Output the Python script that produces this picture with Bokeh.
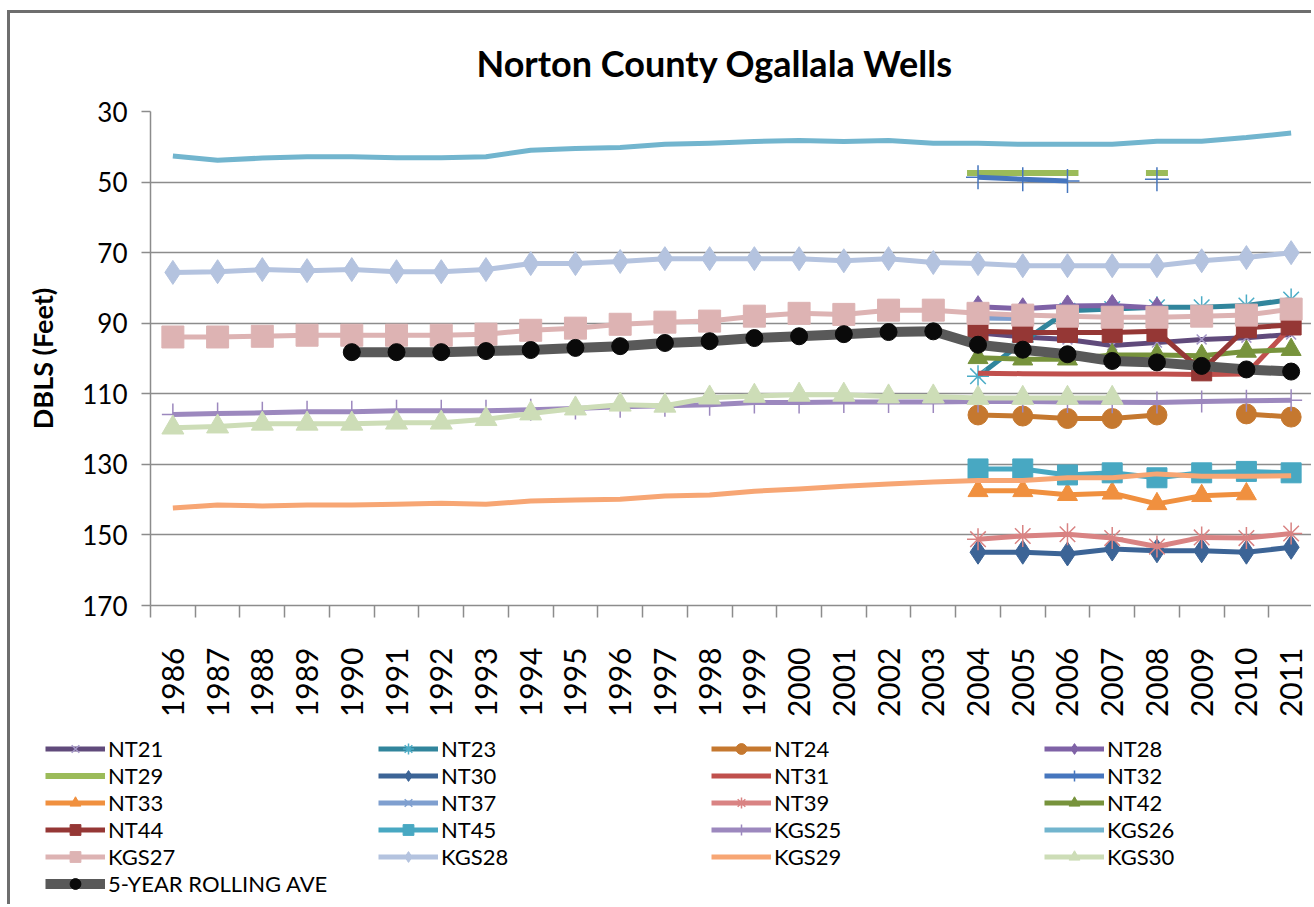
import math
from bokeh.plotting import figure
from bokeh.models import Range1d, FixedTicker, Legend, LegendItem
from bokeh.embed import file_html
from bokeh.resources import INLINE

nan = float("nan")

years = list(range(1986, 2012))
recent_years = list(range(2004, 2012))
roll_years = list(range(1990, 2012))
y_ticks = [30, 50, 70, 90, 110, 130, 150, 170]

# NT wells, 2004-2011
NT21 = [92.7, 93.9, 94.6, 96.3, 95.5, 94.6, 94.1, 93.2]
NT23 = [105.0, 95.3, 86.5, 86.0, 85.5, 85.5, 85.0, 83.3]
NT24 = [116.0, 116.3, 117.0, 117.0, 116.0, nan, 115.7, 116.6]
NT28 = [85.3, 85.9, 85.1, 85.0, 85.7, nan, nan, nan]
NT29 = [47.4, 47.4, 47.4, nan, 47.4, nan, nan, nan]
NT30 = [154.9, 154.9, 155.4, 154.0, 154.5, 154.5, 154.9, 153.5]
NT31 = [104.2, 104.3, 104.4, 104.4, 104.4, 104.5, 104.4, 91.0]
NT32 = [48.6, 49.2, 49.7, nan, 49.2, nan, nan, nan]
NT33 = [137.5, 137.5, 138.6, 138.2, 141.2, 138.9, 138.4, nan]
NT37 = [88.5, 88.7, nan, nan, nan, nan, nan, nan]
NT39 = [151.2, 150.3, 149.8, 150.9, 153.3, 150.7, 150.9, 149.6]
NT42 = [99.8, 100.2, 100.2, 99.0, 99.0, 99.2, 98.0, 97.5]
NT44 = [92.3, 92.6, 92.6, 92.6, 92.3, 103.5, 91.3, 90.5]
NT45 = [131.3, 131.3, 133.0, 132.4, 133.8, 132.4, 132.0, 132.4]

# KGS wells, 1986-2011
KGS25 = [115.9, 115.6, 115.4, 115.1, 115.1, 114.8, 114.8, 114.8, 114.5, 114.2, 113.7, 113.4, 113.1,
         112.5, 112.5, 112.3, 112.3, 112.3, 112.2, 112.2, 112.3, 112.4, 112.5, 112.2, 112.0, 111.8]
KGS26 = [42.6, 43.8, 43.2, 42.8, 42.8, 43.1, 43.1, 42.8, 41.0, 40.5, 40.2, 39.3, 39.0,
         38.5, 38.2, 38.5, 38.2, 39.0, 39.0, 39.3, 39.3, 39.3, 38.4, 38.4, 37.4, 36.1]
KGS27 = [93.9, 93.9, 93.7, 93.4, 93.4, 93.4, 93.4, 93.1, 92.0, 91.4, 90.3, 89.7, 89.4,
         88.0, 87.2, 87.5, 86.3, 86.3, 87.2, 87.7, 88.0, 88.3, 88.3, 88.0, 87.7, 86.0]
KGS28 = [75.6, 75.4, 74.8, 75.1, 74.8, 75.4, 75.4, 74.8, 73.1, 73.1, 72.5, 71.7, 71.7,
         71.7, 71.7, 72.3, 71.7, 72.8, 73.1, 73.7, 73.7, 73.7, 73.7, 72.3, 71.4, 70.0]
KGS29 = [142.4, 141.5, 141.8, 141.5, 141.5, 141.3, 141.0, 141.3, 140.4, 140.1, 139.9, 139.0, 138.7,
         137.6, 137.0, 136.2, 135.6, 135.0, 134.6, 134.6, 133.8, 133.8, 132.7, 133.4, 133.4, 133.2]
KGS30 = [119.6, 119.3, 118.5, 118.5, 118.5, 118.2, 118.2, 117.2, 115.6, 114.2, 113.1, 113.4, 111.1,
         110.6, 110.3, 110.3, 110.8, 110.8, 111.2, 111.2, 111.2, 111.2, nan, nan, nan, nan]

# 5-year rolling average, 1990-2011
ROLL5 = [98.2, 98.2, 98.2, 97.9, 97.6, 97.0, 96.5, 95.6, 95.1, 94.2, 93.7, 93.1, 92.5, 92.3,
         96.1, 97.5, 98.8, 100.7, 101.1, 102.1, 103.1, 103.7]

FONT = "Lato"
BORDER = "3px solid #6E6E6E"

p = figure(width=1304, height=712, output_backend="svg", toolbar_location=None,
           x_range=Range1d(1985.5, 2011.5), y_range=Range1d(170, 30),
           min_border_left=140, min_border_right=1, min_border_top=97, min_border_bottom=120)
p.margin = (10, 0, 0, 7)
p.styles = {"border-left": BORDER, "border-top": BORDER}

p.outline_line_color = None
p.background_fill_color = "white"
p.border_fill_color = "white"

p.title.text = "Norton County Ogallala Wells"
p.title.text_font = FONT
p.title.text_font_size = "36px"
p.title.text_font_style = "bold"
p.title.text_color = "black"
p.title.align = "left"
p.title.offset = 326
p.title.vertical_align = "middle"
p.title.standoff = 52

grid_gray = "#8C8C8C"

# x axis: labels at years, tick marks between categories
xa = p.xaxis[0]
xa.ticker = FixedTicker(ticks=years, minor_ticks=[y - 0.5 for y in years] + [years[-1] + 0.5])
xa.major_label_orientation = math.pi / 2
xa.major_label_text_font = FONT
xa.major_label_text_font_size = "30px"
xa.major_label_text_color = "black"
xa.major_label_standoff = 30
xa.major_tick_out = 0
xa.major_tick_in = 0
xa.minor_tick_out = 12
xa.minor_tick_in = 0
xa.minor_tick_line_color = grid_gray
xa.minor_tick_line_width = 1.5
xa.axis_line_color = grid_gray
xa.axis_line_width = 1.5
p.xgrid.visible = False

ya = p.yaxis[0]
ya.ticker = FixedTicker(ticks=y_ticks, minor_ticks=[])
ya.major_label_text_font = FONT
ya.major_label_text_font_size = "26px"
ya.major_label_text_color = "black"
ya.major_label_standoff = 14
ya.major_tick_out = 9
ya.major_tick_in = 0
ya.major_tick_line_color = grid_gray
ya.major_tick_line_width = 1.5
ya.minor_tick_out = 0
ya.minor_tick_in = 0
ya.axis_line_color = grid_gray
ya.axis_line_width = 1.5
ya.axis_label = "DBLS (Feet)"
ya.axis_label_text_font = FONT
ya.axis_label_text_font_size = "27px"
ya.axis_label_text_font_style = "bold"
ya.axis_label_text_color = "black"
ya.axis_label_standoff = 20
p.ygrid.grid_line_color = grid_gray
p.ygrid.grid_line_width = 1.5

# legend strip below the chart (same series, drawn outside its view so only the key shows)
pl = figure(width=1304, height=182, output_backend="svg", toolbar_location=None,
            x_range=Range1d(0, 1), y_range=Range1d(0, 1),
            x_axis_location=None, y_axis_location=None,
            min_border_left=0, min_border_right=0, min_border_top=0, min_border_bottom=0)
pl.margin = (0, 0, 0, 7)
pl.styles = {"border-left": BORDER}
pl.outline_line_color = None
pl.xgrid.visible = False
pl.ygrid.visible = False
pl.background_fill_color = "white"
pl.border_fill_color = "white"

# label, x, y, line colour, line width, marker, marker size, marker colour, filled
series = [
    ("NT21", recent_years, NT21, "#604A7B", 5, "x", 14, "#A497C6", False),
    ("NT23", recent_years, NT23, "#31859C", 5, "asterisk", 22, "#4BACC6", False),
    ("NT24", recent_years, NT24, "#C5782F", 5, "circle", 20, "#C5782F", True),
    ("NT28", recent_years, NT28, "#7F62A6", 5, "diamond", 22, "#7F62A6", True),
    ("NT29", recent_years, NT29, "#9BBB59", 6, "dash", 22, "#9BBB59", False),
    ("NT30", recent_years, NT30, "#3C6496", 5, "diamond", 24, "#3C6496", True),
    ("NT31", recent_years, NT31, "#C0504D", 5, None, 0, None, False),
    ("NT32", recent_years, NT32, "#4676BE", 5, "cross", 24, "#4676BE", False),
    ("NT33", recent_years, NT33, "#F0903F", 5, "triangle", 20, "#F0903F", True),
    ("NT37", recent_years, NT37, "#7F9FCF", 5, "x", 14, "#7F9FCF", False),
    ("NT39", recent_years, NT39, "#D98383", 5, "asterisk", 22, "#D98383", False),
    ("NT42", recent_years, NT42, "#77933C", 5, "triangle", 20, "#77933C", True),
    ("NT44", recent_years, NT44, "#953735", 5, "square", 20, "#953735", True),
    ("NT45", recent_years, NT45, "#48A8C2", 5, "square", 20, "#48A8C2", True),
    ("KGS25", years, KGS25, "#9C88BE", 5, "cross", 22, "#9C88BE", False),
    ("KGS26", years, KGS26, "#72B5CE", 5, None, 0, None, False),
    ("KGS27", years, KGS27, "#DDB3B3", 5, "square", 22, "#DDB3B3", True),
    ("KGS28", years, KGS28, "#B4C3DF", 5, "diamond", 24, "#B4C3DF", True),
    ("KGS29", years, KGS29, "#F7A674", 5, None, 0, None, False),
    ("KGS30", years, KGS30, "#CDDDB7", 5, "triangle", 22, "#CDDDB7", True),
    ("5-YEAR ROLLING AVE", roll_years, ROLL5, "#595959", 10, "circle", 17, "#0A0A0A", True),
]


def draw(fig, xs, ys, lc, lw, marker, ms, mc, filled):
    rs = [fig.line(xs, ys, line_color=lc, line_width=lw, line_join="round")]
    if marker is not None:
        if filled:
            rs.append(fig.scatter(xs, ys, marker=marker, size=ms, fill_color=mc, line_color=mc,
                                  line_width=1))
        else:
            rs.append(fig.scatter(xs, ys, marker=marker, size=ms, line_color=mc,
                                  line_width=6 if marker == "dash" else 1.5))
    return rs


items = []
for label, xs, ys, lc, lw, marker, ms, mc, filled in series:
    draw(p, xs, ys, lc, lw, marker, ms, mc, filled)
    rs = draw(pl, xs, ys, lc, lw, marker, ms, mc, filled)
    items.append(LegendItem(label=label, renderers=rs))

legend = Legend(items=items, orientation="horizontal", ncols=4,
                location=(35, 7), padding=0, margin=0, spacing=0,
                glyph_width=60, glyph_height=27, label_standoff=3,
                label_width=270, label_height=27,
                label_text_font=FONT, label_text_font_size="22px",
                label_text_color="black",
                border_line_color=None, background_fill_alpha=0)
pl.add_layout(legend)

open("out.html", "w").write(file_html([p, pl], INLINE))
